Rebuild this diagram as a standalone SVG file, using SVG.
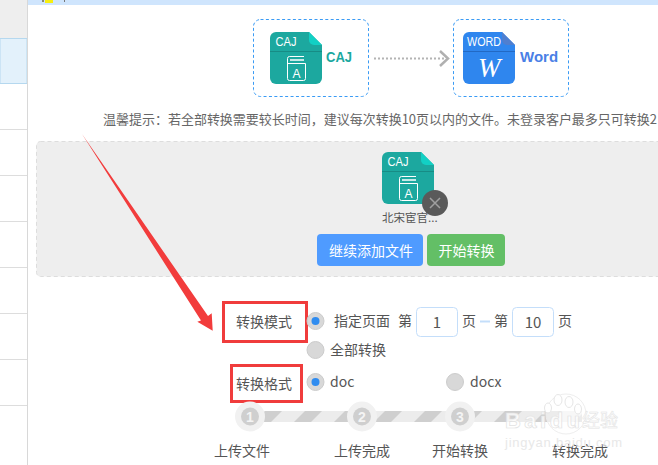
<svg xmlns="http://www.w3.org/2000/svg" width="658" height="465" viewBox="0 0 658 465">
<style>
text{font-family:"Noto Sans CJK SC","Liberation Sans",sans-serif;fill:#555}
.t14{font-size:14px}
.row{stroke:#ddd;stroke-width:1}
.dash{fill:#fff;stroke:#3a9bf5;stroke-width:1;stroke-dasharray:3 2.4}
.rb{fill:none;stroke:#f03c3c;stroke-width:3}
.radio{fill:#d8d8d8;stroke:#ccc;stroke-width:1}
.dot{fill:#2f8cf0}
.inp{fill:#fff;stroke:#c4defa;stroke-width:1}
.step{fill:#f1f1f1}
.stepi{fill:#cfcfcf}
.num{font-family:"Liberation Sans",sans-serif;font-size:14px;font-weight:bold;fill:#f4f4f4}
.ico{fill:none;stroke:#fff;stroke-width:1}
</style>
<defs>
<pattern id="st" width="40" height="11" patternUnits="userSpaceOnUse" patternTransform="translate(294 411)">
<rect width="40" height="11" fill="#ececec"/>
<polygon points="0,11 11,0 28,0 17,11" fill="#cfcfcf"/>
</pattern>
<g id="caj">
<path d="M6 0H39L52 13V46a6 6 0 0 1-6 6H6a6 6 0 0 1-6-6V6a6 6 0 0 1 6-6Z" fill="#1ca89f"/>
<path d="M39 0L52 13H44a5 5 0 0 1-5-5Z" fill="#12d0c4"/>
<line x1="0" y1="19.500" x2="52" y2="19.500" stroke="#178c85"/>
<text x="5.500" y="14" textLength="21" lengthAdjust="spacingAndGlyphs" style="font-family:'Liberation Sans',sans-serif;font-size:13px;fill:#fff">CAJ</text>
<path class="ico" d="M19.500 24.500H34M17.500 31.500H35.500V46.500a2 2 0 0 1-2 2H19.500a2 2 0 0 1-2-2V26.500a2 2 0 0 1 2-2"/>
<line x1="20" y1="28" x2="34" y2="28" stroke="#fff" stroke-width="1.500"/>
<text x="26.500" y="45.500" text-anchor="middle" style="font-family:'Liberation Sans',sans-serif;font-size:12px;fill:#fff">A</text>
</g>
</defs>

<g id="sidebar">
<rect x="0" y="0" width="27" height="38" fill="#eeeeee"/>
<rect x="0" y="38.500" width="27" height="45" fill="#e3f1fb" stroke="#b5d8ef"/>
<path class="row" d="M0 129.500H27M0 175.500H27M0 221.500H27M0 267.500H27M0 313.500H27M0 359.500H27M0 405.500H27"/>
<line x1="27.500" y1="0" x2="27.500" y2="465" stroke="#d8d8d8"/>
</g>
<g id="topbar">
<rect x="28" y="0" width="630" height="5" fill="#cfe5fd"/>
<rect x="45" y="0" width="8" height="3" fill="#f7ee10"/>
<rect x="42" y="0" width="2" height="2" fill="#8a8a70"/>
<rect x="64" y="0" width="1" height="2" fill="#777"/>
</g>

<g id="source-box">
<rect class="dash" x="253.500" y="19.500" width="115" height="77" rx="7"/>
<use href="#caj" x="270" y="32"/>
<text x="326" y="62" textLength="26" lengthAdjust="spacingAndGlyphs" style="font-family:'Liberation Sans',sans-serif;font-size:15px;font-weight:bold;fill:#1ca89f">CAJ</text>
</g>
<g id="target-box">
<rect class="dash" x="453.500" y="19.500" width="115" height="77" rx="7"/>
<path d="M469 32H502L515 45V78a6 6 0 0 1-6 6H469a6 6 0 0 1-6-6V38a6 6 0 0 1 6-6Z" fill="#2f86ee"/>
<path d="M502 32L515 45H507a5 5 0 0 1-5-5Z" fill="#4f7fd0"/>
<line x1="463" y1="51.500" x2="515" y2="51.500" stroke="#2269c4"/>
<text x="467" y="46" textLength="34" lengthAdjust="spacingAndGlyphs" style="font-family:'Liberation Sans',sans-serif;font-size:13px;fill:#fff">WORD</text>
<text x="478" y="77" style="font-family:'Liberation Serif',serif;font-size:27px;font-style:italic;fill:#fff">W</text>
<text x="520" y="62" style="font-family:'Liberation Sans',sans-serif;font-size:15px;font-weight:bold;fill:#4a7fe6">Word</text>
</g>
<g id="connectors">
<line x1="374" y1="58.500" x2="446" y2="58.500" stroke="#b4b4b4" stroke-width="2" stroke-dasharray="2 2"/>
<polyline points="440,51 448,58.500 440,66" fill="none" stroke="#b0b0b0" stroke-width="2.500"/>
</g>
<text x="103" y="124" textLength="554" style="font-size:13px;fill:#666">温馨提示：若全部转换需要较长时间，建议每次转换10页以内的文件。未登录客户最多只可转换2</text>

<g id="panel">
<rect x="36.500" y="141.500" width="640" height="135" rx="4" fill="#eeeeee" stroke="#ddd" stroke-dasharray="4 3"/>
<use href="#caj" x="382" y="152"/>
<circle cx="435" cy="203" r="13" fill="#5a5a5a"/>
<path d="M430 198L440 208M440 198L430 208" stroke="#a0a0a0" stroke-width="1.500"/>
<text x="382" y="222" style="font-size:11.500px">北宋宦官...</text>
</g>
<g id="btn-add">
<rect x="317" y="234" width="106" height="32" rx="4" fill="#4f9bff"/>
<text x="329" y="256" style="font-size:14px;fill:#fff">继续添加文件</text>
</g>
<g id="btn-start">
<rect x="427" y="234" width="78" height="32" rx="4" fill="#63bf66"/>
<text x="438.500" y="256" style="font-size:14px;fill:#fff">开始转换</text>
</g>

<g id="mode-label">
<rect class="rb" x="223.500" y="302.500" width="83" height="39"/>
<text class="t14" x="236" y="327">转换模式</text>
</g>
<g id="format-label">
<rect class="rb" x="231.500" y="365.500" width="70" height="36"/>
<text class="t14" x="236" y="389">转换格式</text>
</g>
<g id="mode-options">
<circle class="radio" cx="315.500" cy="321" r="8.500"/><circle class="dot" cx="315.500" cy="321" r="4"/>
<text class="t14" x="334" y="326">指定页面</text>
<text class="t14" x="398" y="326">第</text>
<rect class="inp" x="416.500" y="307.500" width="41" height="29" rx="4"/>
<text x="437" y="328" text-anchor="middle" style="font-size:15px">1</text>
<text class="t14" x="462" y="326">页</text>
<line x1="480" y1="321.500" x2="490" y2="321.500" stroke="#c4defa" stroke-width="2"/>
<text class="t14" x="494" y="326">第</text>
<rect class="inp" x="512.500" y="307.500" width="41" height="29" rx="4"/>
<text x="533" y="328" text-anchor="middle" style="font-size:15px">10</text>
<text class="t14" x="558" y="326">页</text>
<circle class="radio" cx="315.500" cy="350" r="8.500"/>
<text class="t14" x="330" y="355">全部转换</text>
</g>
<g id="format-options">
<circle class="radio" cx="315.500" cy="382" r="8.500"/><circle class="dot" cx="315.500" cy="382" r="4"/>
<text x="330" y="387" style="font-size:14px">doc</text>
<circle class="radio" cx="455" cy="382" r="8.500"/>
<text x="470" y="387" style="font-size:14px">docx</text>
</g>
<g id="progress">
<rect x="260" y="411" width="322" height="11" fill="url(#st)"/>
</g>
<g id="step-1"><circle class="step" cx="250" cy="416.500" r="15"/><circle class="stepi" cx="250" cy="416.500" r="9"/><text class="num" x="250" y="421.500" text-anchor="middle">1</text><text class="t14" x="214" y="456">上传文件</text></g>
<g id="step-2"><circle class="step" cx="362" cy="416.500" r="15"/><circle class="stepi" cx="362" cy="416.500" r="9"/><text class="num" x="362" y="421.500" text-anchor="middle">2</text><text class="t14" x="334" y="456">上传完成</text></g>
<g id="step-3"><circle class="step" cx="460" cy="416.500" r="15"/><circle class="stepi" cx="460" cy="416.500" r="9"/><text class="num" x="460" y="421.500" text-anchor="middle">3</text><text class="t14" x="432" y="456">开始转换</text></g>
<g id="step-4"><text class="t14" x="552" y="456">转换完成</text></g>

<g id="watermark">
<circle cx="566" cy="414" r="20" fill="#fff" fill-opacity=".6" stroke="#eee"/>
<g fill="#fff" stroke="#e6e6e6">
<ellipse cx="558" cy="400" rx="4" ry="5.500"/><ellipse cx="569" cy="402" rx="4" ry="5.500"/><ellipse cx="548" cy="408" rx="3.500" ry="5"/><ellipse cx="578" cy="409" rx="3.500" ry="5"/>
</g>
<text x="505" y="428" textLength="75" style="font-family:'Liberation Sans',sans-serif;font-size:22px;font-weight:bold;fill:#fff;fill-opacity:.8;stroke:#e2e2e2;stroke-width:.7">Baidu</text>
<text x="582" y="427" style="font-size:18px;fill:#fff;stroke:#e2e2e2;stroke-width:.5">经验</text>
<text x="505" y="447" textLength="117" style="font-family:'Liberation Sans',sans-serif;font-size:13px;fill:#e8e8e8">jingyan.baidu.com</text>
</g>
<polygon id="red-arrow" points="82,134 208,316 211.700,313.300 212.700,330.700 197.300,321.700 201,320.500" fill="#f23c3c"/>
</svg>
